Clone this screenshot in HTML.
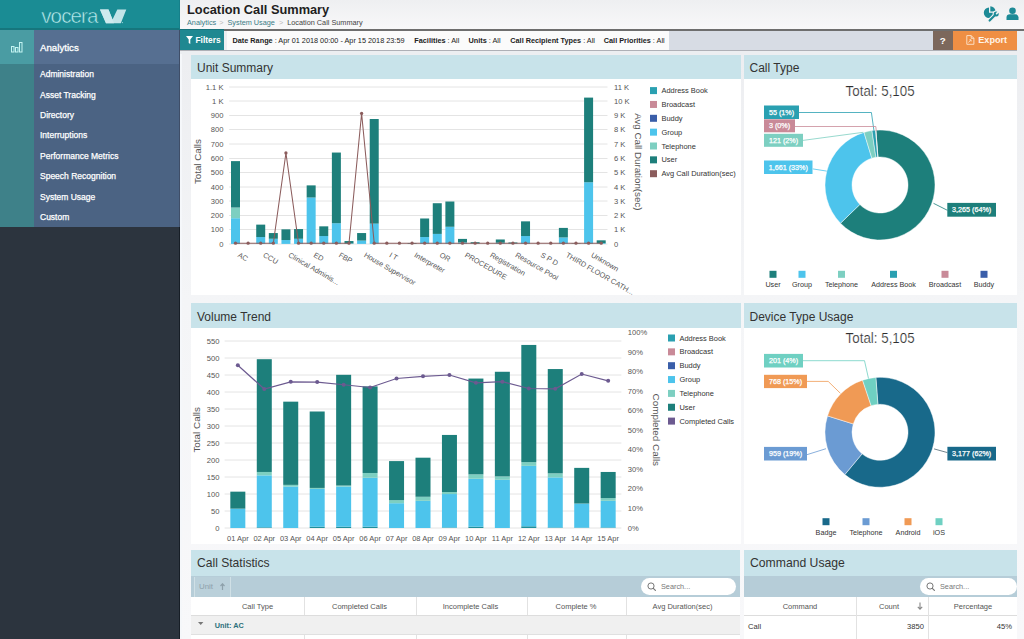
<!DOCTYPE html><html><head><meta charset="utf-8"><title>Location Call Summary</title><style>
*{margin:0;padding:0;box-sizing:border-box}
html,body{width:1024px;height:639px;overflow:hidden;background:linear-gradient(#edeef1 60px,#f4f5f7 300px,#f8f8fa 639px);font-family:"Liberation Sans", sans-serif;}
.a{position:absolute}
.t{position:absolute;white-space:nowrap;line-height:1}
.mi{position:absolute;left:40px;color:#fff;font-size:8.5px;-webkit-text-stroke:0.25px #fff;white-space:nowrap;line-height:1}
.ph{position:absolute;background:#c8e3ea;}
.ph span{position:absolute;left:6px;top:8px;font-size:12px;color:#333;white-space:nowrap;line-height:1}
.pb{position:absolute;background:#fff}
.fb b{font-weight:bold}
</style></head><body>
<div class="a" style="left:0;top:0;width:180px;height:29px;background:#1a8c94"></div>
<div class="a" style="left:0;top:28px;width:180px;height:2px;background:#16767d"></div>
<div class="a" style="left:0;top:30px;width:34px;height:34px;background:#4a9ca3"></div>
<div class="a" style="left:0;top:64px;width:34px;height:163px;background:#3e8189"></div>
<div class="a" style="left:34px;top:30px;width:146px;height:34px;background:#566f91"></div>
<div class="a" style="left:34px;top:64px;width:146px;height:163px;background:#4b6383"></div>
<div class="a" style="left:0;top:227px;width:180px;height:412px;background:#2c343e"></div>
<div class="a" style="left:179px;top:0;width:1px;height:29px;background:#16808a"></div>
<div class="a" style="left:179px;top:30px;width:1px;height:197px;background:#3f4e68"></div>
<div class="a" style="left:179px;top:227px;width:1px;height:412px;background:#171e26"></div>
<div class="a" style="left:180px;top:51px;width:2px;height:588px;background:#f5f7fa"></div>
<svg class="a" style="left:0;top:0" width="180" height="29" viewBox="0 0 180 29"><text x="41.2" y="23" font-size="20.6" letter-spacing="-0.9" fill="#b9eef0" stroke="#1a8c94" stroke-width="0.55" style="font-family:'Liberation Sans',sans-serif">vocera</text><path d="M100 9.5 L108.5 9.5 L112.5 19.5 L117.3 9.5 L126.3 9.5 L120.8 23.2 L106 23.2 Z" fill="#c3e4e8"/><path d="M100 9.5 L108.5 9.5 L114 23.2 L106 23.2 Z" fill="#cfeaee"/><circle cx="122.4" cy="22.6" r="0.6" fill="#9fd6dc"/></svg>
<svg class="a" style="left:10px;top:41px" width="13" height="12" viewBox="0 0 13 12"><g fill="none" stroke="#c4f4f2" stroke-width="1"><rect x="1.5" y="5.5" width="2.5" height="5.5"/><rect x="5.5" y="6.5" width="2.5" height="4.5"/><rect x="9.5" y="1.5" width="2.5" height="9.5"/></g></svg>
<div class="t" style="left:40px;top:43.3px;font-size:9.7px;color:#fff;-webkit-text-stroke:0.3px #fff">Analytics</div>
<div class="mi" style="top:70.0px">Administration</div>
<div class="mi" style="top:90.5px">Asset Tracking</div>
<div class="mi" style="top:110.9px">Directory</div>
<div class="mi" style="top:131.3px">Interruptions</div>
<div class="mi" style="top:151.8px">Performance Metrics</div>
<div class="mi" style="top:172.2px">Speech Recognition</div>
<div class="mi" style="top:192.7px">System Usage</div>
<div class="mi" style="top:213.2px">Custom</div>
<div class="a" style="left:180px;top:0;width:844px;height:29px;background:linear-gradient(#eeeff1,#f8f8f9)"></div>
<div class="a" style="left:180px;top:29px;width:844px;height:2px;background:#6e6e6e"></div>
<div class="t" style="left:187px;top:4.3px;font-size:12.8px;color:#1e1e1e;font-weight:bold">Location Call Summary</div>
<div class="t" style="left:187px;top:18.8px;font-size:7.3px;color:#3b7c86">Analytics<span style="color:#bbb;margin:0 4px 0 3px">&gt;</span>System Usage<span style="color:#bbb;margin:0 4px 0 4px">&gt;</span><span style="color:#444">Location Call Summary</span></div>
<svg class="a" style="left:983px;top:5px" width="18" height="18" viewBox="0 0 18 18"><path d="M6 7.8 L6 2.6 A5.2 5.2 0 1 0 11.2 7.8 Z" fill="#1d8a96"/><path d="M7.3 6.5 L7.3 1.3 A5.2 5.2 0 0 1 12.5 6.5 Z" fill="#1d8a96"/><path d="M6.6 15.6 L12.4 9.8" stroke="#f3f3f3" stroke-width="4.2" stroke-linecap="round"/><circle cx="13.2" cy="9" r="3.6" fill="#f3f3f3"/><path d="M6.6 15.6 L12.4 9.8" stroke="#1d8a96" stroke-width="2.1" stroke-linecap="round"/><circle cx="13.2" cy="9" r="2.5" fill="#1d8a96"/><path d="M13.6 8.6 L15.8 6.4" stroke="#f3f3f3" stroke-width="1.6" stroke-linecap="round"/></svg>
<svg class="a" style="left:1006px;top:7px" width="13" height="14" viewBox="0 0 13 14"><circle cx="6.5" cy="3.8" r="3.3" fill="#1d8a96"/><path d="M0.5 13 L0.5 10.5 Q0.5 7.3 4 7.3 L9 7.3 Q12.5 7.3 12.5 10.5 L12.5 13 Z" fill="#1d8a96"/></svg>
<div class="a" style="left:180px;top:31px;width:844px;height:23px;background:#eceef1"></div>
<div class="a" style="left:180px;top:29px;width:44px;height:21px;background:#1f8891;border-top:1.5px solid #17727a"></div>
<div class="a" style="left:227px;top:31px;width:442px;height:19px;background:#fbfbfb"></div>
<div class="a" style="left:669px;top:31px;width:264px;height:19px;background:#d7dce4"></div>
<div class="a" style="left:180px;top:49.5px;width:837px;height:1.3px;background:#aeb0b6"></div>
<svg class="a" style="left:185.5px;top:36px" width="7" height="8" viewBox="0 0 7 8"><path d="M0 0 H7 L4.3 3.5 V8 L2.7 7 V3.5 Z" fill="#fff"/></svg>
<div class="t" style="left:195.5px;top:36.3px;font-size:8.4px;color:#fff;font-weight:bold">Filters</div>
<div class="t fb" style="left:232.5px;top:37px;font-size:7.3px;color:#222"><b>Date Range</b> : Apr 01 2018 00:00 - Apr 15 2018 23:59</div>
<div class="t fb" style="left:414.3px;top:37px;font-size:7.3px;color:#222"><b>Facilities</b> : All</div>
<div class="t fb" style="left:468.5px;top:37px;font-size:7.3px;color:#222"><b>Units</b> : All</div>
<div class="t fb" style="left:510.3px;top:37px;font-size:7.3px;color:#222"><b>Call Recipient Types</b> : All</div>
<div class="t fb" style="left:603.8px;top:37px;font-size:7.3px;color:#222"><b>Call Priorities</b> : All</div>
<div class="a" style="left:933px;top:31px;width:20px;height:19px;background:#7c685c"></div>
<div class="t" style="left:939.8px;top:36px;font-size:9.8px;color:#fff;font-weight:bold">?</div>
<div class="a" style="left:953px;top:31px;width:64px;height:19px;background:#ef8f44"></div>
<svg class="a" style="left:966px;top:35px" width="9" height="10" viewBox="0 0 9 10"><path d="M0.8 0.6 H5.2 L7.9 3.3 V9.3 H0.8 Z M5.2 0.6 V3.3 H7.9" fill="none" stroke="#fde5cf" stroke-width="0.9"/><path d="M2.4 7.4 L4.9 5 M3.4 4.8 H5.1 V6.5" fill="none" stroke="#fde5cf" stroke-width="0.9"/></svg>
<div class="t" style="left:978.3px;top:36.2px;font-size:9.1px;color:#fff5ea;font-weight:bold">Export</div>
<div class="pb" style="left:191px;top:54.6px;width:549.5px;height:240.4px"></div>
<div class="ph" style="left:191px;top:54.6px;width:549.5px;height:24.8px"><span style="top:7.6px;font-size:12px">Unit Summary</span></div>
<div class="pb" style="left:743.5px;top:54.6px;width:273.5px;height:240.4px"></div>
<div class="ph" style="left:743.5px;top:54.6px;width:273.5px;height:24.8px"><span style="top:7.6px;font-size:12px">Call Type</span></div>
<div class="pb" style="left:191px;top:302.5px;width:549.5px;height:241.5px"></div>
<div class="ph" style="left:191px;top:302.5px;width:549.5px;height:25px"><span style="top:8px;font-size:12px">Volume Trend</span></div>
<div class="pb" style="left:743.5px;top:302.5px;width:273.5px;height:241px"></div>
<div class="ph" style="left:743.5px;top:302.5px;width:273.5px;height:25px"><span style="top:8px;font-size:12px">Device Type Usage</span></div>
<div class="pb" style="left:191px;top:550px;width:549px;height:100px"></div>
<div class="ph" style="left:191px;top:550px;width:549px;height:26px"><span style="top:7.2px;font-size:12.1px">Call Statistics</span></div>
<div class="pb" style="left:744px;top:550px;width:273px;height:100px"></div>
<div class="ph" style="left:744px;top:550px;width:273px;height:26px"><span style="top:7.2px;font-size:12.2px">Command Usage</span></div>
<svg class="a" style="left:0;top:0;font-family:'Liberation Sans',sans-serif" width="1024" height="639" viewBox="0 0 1024 639"><line x1="229.2" y1="244.0" x2="607.5" y2="244.0" stroke="#e4e4e4" stroke-width="1"/><line x1="229.2" y1="229.5" x2="607.5" y2="229.5" stroke="#e4e4e4" stroke-width="1"/><line x1="229.2" y1="215.5" x2="607.5" y2="215.5" stroke="#e4e4e4" stroke-width="1"/><line x1="229.2" y1="201.0" x2="607.5" y2="201.0" stroke="#e4e4e4" stroke-width="1"/><line x1="229.2" y1="187.0" x2="607.5" y2="187.0" stroke="#e4e4e4" stroke-width="1"/><line x1="229.2" y1="172.5" x2="607.5" y2="172.5" stroke="#e4e4e4" stroke-width="1"/><line x1="229.2" y1="158.5" x2="607.5" y2="158.5" stroke="#e4e4e4" stroke-width="1"/><line x1="229.2" y1="144.0" x2="607.5" y2="144.0" stroke="#e4e4e4" stroke-width="1"/><line x1="229.2" y1="129.5" x2="607.5" y2="129.5" stroke="#e4e4e4" stroke-width="1"/><line x1="229.2" y1="115.5" x2="607.5" y2="115.5" stroke="#e4e4e4" stroke-width="1"/><line x1="229.2" y1="101.0" x2="607.5" y2="101.0" stroke="#e4e4e4" stroke-width="1"/><line x1="229.2" y1="87.0" x2="607.5" y2="87.0" stroke="#e4e4e4" stroke-width="1"/><text x="223.50" y="246.60" font-size="7.6" fill="#555" text-anchor="end" >0</text><text x="223.50" y="232.33" font-size="7.6" fill="#555" text-anchor="end" >100</text><text x="223.50" y="218.05" font-size="7.6" fill="#555" text-anchor="end" >200</text><text x="223.50" y="203.78" font-size="7.6" fill="#555" text-anchor="end" >300</text><text x="223.50" y="189.51" font-size="7.6" fill="#555" text-anchor="end" >400</text><text x="223.50" y="175.24" font-size="7.6" fill="#555" text-anchor="end" >500</text><text x="223.50" y="160.96" font-size="7.6" fill="#555" text-anchor="end" >600</text><text x="223.50" y="146.69" font-size="7.6" fill="#555" text-anchor="end" >700</text><text x="223.50" y="132.42" font-size="7.6" fill="#555" text-anchor="end" >800</text><text x="223.50" y="118.15" font-size="7.6" fill="#555" text-anchor="end" >900</text><text x="223.50" y="103.87" font-size="7.6" fill="#555" text-anchor="end" >1 K</text><text x="223.50" y="89.60" font-size="7.6" fill="#555" text-anchor="end" >1.1 K</text><text x="614.00" y="246.60" font-size="7.6" fill="#555" text-anchor="start" >0</text><text x="614.00" y="232.33" font-size="7.6" fill="#555" text-anchor="start" >1 K</text><text x="614.00" y="218.05" font-size="7.6" fill="#555" text-anchor="start" >2 K</text><text x="614.00" y="203.78" font-size="7.6" fill="#555" text-anchor="start" >3 K</text><text x="614.00" y="189.51" font-size="7.6" fill="#555" text-anchor="start" >4 K</text><text x="614.00" y="175.24" font-size="7.6" fill="#555" text-anchor="start" >5 K</text><text x="614.00" y="160.96" font-size="7.6" fill="#555" text-anchor="start" >6 K</text><text x="614.00" y="146.69" font-size="7.6" fill="#555" text-anchor="start" >7 K</text><text x="614.00" y="132.42" font-size="7.6" fill="#555" text-anchor="start" >8 K</text><text x="614.00" y="118.15" font-size="7.6" fill="#555" text-anchor="start" >9 K</text><text x="614.00" y="103.87" font-size="7.6" fill="#555" text-anchor="start" >10 K</text><text x="614.00" y="89.60" font-size="7.6" fill="#555" text-anchor="start" >11 K</text><text transform="translate(200.6,161.6) rotate(-90)" font-size="9.75" fill="#555" text-anchor="middle">Total Calls</text><text transform="translate(634.6,161.8) rotate(90)" font-size="9.75" fill="#555" text-anchor="middle">Avg Call Duration(sec)</text><rect x="231.00" y="218.21" width="9" height="25.69" fill="#4dc4ec"/><rect x="231.00" y="207.50" width="9" height="10.70" fill="#7dcfc1"/><rect x="231.00" y="161.12" width="9" height="46.39" fill="#1d7f7b"/><rect x="256.22" y="237.05" width="9" height="6.85" fill="#4dc4ec"/><rect x="256.22" y="224.63" width="9" height="12.42" fill="#1d7f7b"/><rect x="268.83" y="238.76" width="9" height="5.14" fill="#4dc4ec"/><rect x="268.83" y="233.05" width="9" height="5.71" fill="#1d7f7b"/><rect x="281.44" y="240.05" width="9" height="3.85" fill="#4dc4ec"/><rect x="281.44" y="229.34" width="9" height="10.70" fill="#1d7f7b"/><rect x="294.06" y="238.76" width="9" height="5.14" fill="#4dc4ec"/><rect x="294.06" y="229.06" width="9" height="9.71" fill="#1d7f7b"/><rect x="306.66" y="197.51" width="9" height="46.39" fill="#4dc4ec"/><rect x="306.66" y="185.38" width="9" height="12.13" fill="#1d7f7b"/><rect x="319.27" y="236.05" width="9" height="7.85" fill="#4dc4ec"/><rect x="319.27" y="226.34" width="9" height="9.71" fill="#1d7f7b"/><rect x="331.88" y="223.20" width="9" height="20.70" fill="#4dc4ec"/><rect x="331.88" y="152.55" width="9" height="70.65" fill="#1d7f7b"/><rect x="344.50" y="243.47" width="9" height="0.43" fill="#4dc4ec"/><rect x="344.50" y="241.05" width="9" height="2.43" fill="#1d7f7b"/><rect x="357.11" y="240.62" width="9" height="3.28" fill="#4dc4ec"/><rect x="357.11" y="233.05" width="9" height="7.56" fill="#1d7f7b"/><rect x="369.72" y="223.63" width="9" height="20.27" fill="#4dc4ec"/><rect x="369.72" y="119.01" width="9" height="104.62" fill="#1d7f7b"/><rect x="407.55" y="243.19" width="9" height="0.71" fill="#1d7f7b"/><rect x="420.15" y="237.05" width="9" height="6.85" fill="#4dc4ec"/><rect x="420.15" y="218.49" width="9" height="18.55" fill="#1d7f7b"/><rect x="432.76" y="233.91" width="9" height="9.99" fill="#4dc4ec"/><rect x="432.76" y="203.22" width="9" height="30.69" fill="#1d7f7b"/><rect x="445.38" y="226.77" width="9" height="17.13" fill="#4dc4ec"/><rect x="445.38" y="201.51" width="9" height="25.26" fill="#1d7f7b"/><rect x="457.99" y="242.47" width="9" height="1.43" fill="#4dc4ec"/><rect x="457.99" y="238.90" width="9" height="3.57" fill="#1d7f7b"/><rect x="470.60" y="243.47" width="9" height="0.43" fill="#4dc4ec"/><rect x="470.60" y="242.19" width="9" height="1.28" fill="#1d7f7b"/><rect x="495.81" y="242.76" width="9" height="1.14" fill="#4dc4ec"/><rect x="495.81" y="239.48" width="9" height="3.28" fill="#1d7f7b"/><rect x="508.42" y="243.47" width="9" height="0.43" fill="#4dc4ec"/><rect x="508.42" y="242.47" width="9" height="1.00" fill="#1d7f7b"/><rect x="521.04" y="236.05" width="9" height="7.85" fill="#4dc4ec"/><rect x="521.04" y="221.35" width="9" height="14.70" fill="#1d7f7b"/><rect x="558.87" y="237.48" width="9" height="6.42" fill="#4dc4ec"/><rect x="558.87" y="227.91" width="9" height="9.56" fill="#1d7f7b"/><rect x="571.48" y="243.47" width="9" height="0.43" fill="#1d7f7b"/><rect x="584.09" y="182.24" width="9" height="61.66" fill="#4dc4ec"/><rect x="584.09" y="97.60" width="9" height="84.64" fill="#1d7f7b"/><rect x="596.70" y="243.19" width="9" height="0.71" fill="#4dc4ec"/><rect x="596.70" y="240.33" width="9" height="2.85" fill="#1d7f7b"/><polyline points="235.50,243.20 248.11,243.20 260.72,243.20 273.33,243.20 285.94,152.98 298.56,243.20 311.16,243.20 323.77,243.20 336.38,243.20 349.00,243.20 361.61,113.45 374.22,243.20 386.83,243.20 399.44,243.20 412.05,243.20 424.65,243.20 437.26,243.20 449.88,243.20 462.49,243.20 475.10,243.20 487.71,243.20 500.31,243.20 512.92,243.20 525.54,243.20 538.14,243.20 550.75,243.20 563.37,243.20 575.98,243.20 588.59,243.20 601.20,243.20" fill="none" stroke="#8b5c5c" stroke-width="1.05"/><circle cx="235.50" cy="243.20" r="1.65" fill="#8b5c5c"/><circle cx="248.11" cy="243.20" r="1.65" fill="#8b5c5c"/><circle cx="260.72" cy="243.20" r="1.65" fill="#8b5c5c"/><circle cx="273.33" cy="243.20" r="1.65" fill="#8b5c5c"/><circle cx="285.94" cy="152.98" r="1.65" fill="#8b5c5c"/><circle cx="298.56" cy="243.20" r="1.65" fill="#8b5c5c"/><circle cx="311.16" cy="243.20" r="1.65" fill="#8b5c5c"/><circle cx="323.77" cy="243.20" r="1.65" fill="#8b5c5c"/><circle cx="336.38" cy="243.20" r="1.65" fill="#8b5c5c"/><circle cx="349.00" cy="243.20" r="1.65" fill="#8b5c5c"/><circle cx="361.61" cy="113.45" r="1.65" fill="#8b5c5c"/><circle cx="374.22" cy="243.20" r="1.65" fill="#8b5c5c"/><circle cx="386.83" cy="243.20" r="1.65" fill="#8b5c5c"/><circle cx="399.44" cy="243.20" r="1.65" fill="#8b5c5c"/><circle cx="412.05" cy="243.20" r="1.65" fill="#8b5c5c"/><circle cx="424.65" cy="243.20" r="1.65" fill="#8b5c5c"/><circle cx="437.26" cy="243.20" r="1.65" fill="#8b5c5c"/><circle cx="449.88" cy="243.20" r="1.65" fill="#8b5c5c"/><circle cx="462.49" cy="243.20" r="1.65" fill="#8b5c5c"/><circle cx="475.10" cy="243.20" r="1.65" fill="#8b5c5c"/><circle cx="487.71" cy="243.20" r="1.65" fill="#8b5c5c"/><circle cx="500.31" cy="243.20" r="1.65" fill="#8b5c5c"/><circle cx="512.92" cy="243.20" r="1.65" fill="#8b5c5c"/><circle cx="525.54" cy="243.20" r="1.65" fill="#8b5c5c"/><circle cx="538.14" cy="243.20" r="1.65" fill="#8b5c5c"/><circle cx="550.75" cy="243.20" r="1.65" fill="#8b5c5c"/><circle cx="563.37" cy="243.20" r="1.65" fill="#8b5c5c"/><circle cx="575.98" cy="243.20" r="1.65" fill="#8b5c5c"/><circle cx="588.59" cy="243.20" r="1.65" fill="#8b5c5c"/><circle cx="601.20" cy="243.20" r="1.65" fill="#8b5c5c"/><text transform="translate(237.31,256.4) rotate(30)" font-size="7.35" fill="#555">AC</text><text transform="translate(262.52,256.4) rotate(30)" font-size="7.35" fill="#555">CCU</text><text transform="translate(287.75,256.4) rotate(30)" font-size="7.35" fill="#555">Clinical Adminis...</text><text transform="translate(312.96,256.4) rotate(30)" font-size="7.35" fill="#555">ED</text><text transform="translate(338.19,256.4) rotate(30)" font-size="7.35" fill="#555">FBP</text><text transform="translate(363.41,256.4) rotate(30)" font-size="7.35" fill="#555">House Supervisor</text><text transform="translate(388.63,256.4) rotate(30)" font-size="7.35" fill="#555">I T</text><text transform="translate(413.85,256.4) rotate(30)" font-size="7.35" fill="#555">Interpreter</text><text transform="translate(439.06,256.4) rotate(30)" font-size="7.35" fill="#555">OR</text><text transform="translate(464.29,256.4) rotate(30)" font-size="7.35" fill="#555">PROCEDURE</text><text transform="translate(489.51,256.4) rotate(30)" font-size="7.35" fill="#555">Registration</text><text transform="translate(514.72,256.4) rotate(30)" font-size="7.35" fill="#555">Resource Pool</text><text transform="translate(539.94,256.4) rotate(30)" font-size="7.35" fill="#555">S P D</text><text transform="translate(565.16,256.4) rotate(30)" font-size="7.35" fill="#555">THIRD FLOOR CATH...</text><text transform="translate(590.38,256.4) rotate(30)" font-size="7.35" fill="#555">Unknown</text><rect x="650" y="87.10" width="7" height="7" fill="#2aa0b1"/><text x="661.50" y="93.20" font-size="7.45" fill="#333" text-anchor="start" >Address Book</text><rect x="650" y="100.95" width="7" height="7" fill="#c98a98"/><text x="661.50" y="107.05" font-size="7.45" fill="#333" text-anchor="start" >Broadcast</text><rect x="650" y="114.80" width="7" height="7" fill="#3a5ea9"/><text x="661.50" y="120.90" font-size="7.45" fill="#333" text-anchor="start" >Buddy</text><rect x="650" y="128.65" width="7" height="7" fill="#4dc4ec"/><text x="661.50" y="134.75" font-size="7.45" fill="#333" text-anchor="start" >Group</text><rect x="650" y="142.50" width="7" height="7" fill="#7dcfc1"/><text x="661.50" y="148.60" font-size="7.45" fill="#333" text-anchor="start" >Telephone</text><rect x="650" y="156.35" width="7" height="7" fill="#1d7f7b"/><text x="661.50" y="162.45" font-size="7.45" fill="#333" text-anchor="start" >User</text><rect x="650" y="170.20" width="7" height="7" fill="#8b5c5c"/><text x="661.50" y="176.30" font-size="7.45" fill="#333" text-anchor="start" >Avg Call Duration(sec)</text><line x1="224.6" y1="528.0" x2="621.4" y2="528.0" stroke="#e4e4e4" stroke-width="1"/><line x1="224.6" y1="511.0" x2="621.4" y2="511.0" stroke="#e4e4e4" stroke-width="1"/><line x1="224.6" y1="494.0" x2="621.4" y2="494.0" stroke="#e4e4e4" stroke-width="1"/><line x1="224.6" y1="477.0" x2="621.4" y2="477.0" stroke="#e4e4e4" stroke-width="1"/><line x1="224.6" y1="460.0" x2="621.4" y2="460.0" stroke="#e4e4e4" stroke-width="1"/><line x1="224.6" y1="443.0" x2="621.4" y2="443.0" stroke="#e4e4e4" stroke-width="1"/><line x1="224.6" y1="426.0" x2="621.4" y2="426.0" stroke="#e4e4e4" stroke-width="1"/><line x1="224.6" y1="409.0" x2="621.4" y2="409.0" stroke="#e4e4e4" stroke-width="1"/><line x1="224.6" y1="392.0" x2="621.4" y2="392.0" stroke="#e4e4e4" stroke-width="1"/><line x1="224.6" y1="375.0" x2="621.4" y2="375.0" stroke="#e4e4e4" stroke-width="1"/><line x1="224.6" y1="358.0" x2="621.4" y2="358.0" stroke="#e4e4e4" stroke-width="1"/><line x1="224.6" y1="341.0" x2="621.4" y2="341.0" stroke="#e4e4e4" stroke-width="1"/><text x="219.50" y="530.70" font-size="7.6" fill="#555" text-anchor="end" >0</text><text x="219.50" y="513.72" font-size="7.6" fill="#555" text-anchor="end" >50</text><text x="219.50" y="496.74" font-size="7.6" fill="#555" text-anchor="end" >100</text><text x="219.50" y="479.75" font-size="7.6" fill="#555" text-anchor="end" >150</text><text x="219.50" y="462.77" font-size="7.6" fill="#555" text-anchor="end" >200</text><text x="219.50" y="445.79" font-size="7.6" fill="#555" text-anchor="end" >250</text><text x="219.50" y="428.81" font-size="7.6" fill="#555" text-anchor="end" >300</text><text x="219.50" y="411.83" font-size="7.6" fill="#555" text-anchor="end" >350</text><text x="219.50" y="394.85" font-size="7.6" fill="#555" text-anchor="end" >400</text><text x="219.50" y="377.86" font-size="7.6" fill="#555" text-anchor="end" >450</text><text x="219.50" y="360.88" font-size="7.6" fill="#555" text-anchor="end" >500</text><text x="219.50" y="343.90" font-size="7.6" fill="#555" text-anchor="end" >550</text><text x="627.80" y="530.50" font-size="7.6" fill="#555" text-anchor="start" >0%</text><text x="627.80" y="510.96" font-size="7.6" fill="#555" text-anchor="start" >10%</text><text x="627.80" y="491.42" font-size="7.6" fill="#555" text-anchor="start" >20%</text><text x="627.80" y="471.88" font-size="7.6" fill="#555" text-anchor="start" >30%</text><text x="627.80" y="452.34" font-size="7.6" fill="#555" text-anchor="start" >40%</text><text x="627.80" y="432.80" font-size="7.6" fill="#555" text-anchor="start" >50%</text><text x="627.80" y="413.26" font-size="7.6" fill="#555" text-anchor="start" >60%</text><text x="627.80" y="393.72" font-size="7.6" fill="#555" text-anchor="start" >70%</text><text x="627.80" y="374.18" font-size="7.6" fill="#555" text-anchor="start" >80%</text><text x="627.80" y="354.64" font-size="7.6" fill="#555" text-anchor="start" >90%</text><text x="627.80" y="335.10" font-size="7.6" fill="#555" text-anchor="start" >100%</text><text transform="translate(200.3,429.8) rotate(-90)" font-size="9.9" fill="#555" text-anchor="middle">Total Calls</text><text transform="translate(652.6,429.8) rotate(90)" font-size="9.9" fill="#555" text-anchor="middle">Completed Calls</text><rect x="230.33" y="508.64" width="15" height="19.36" fill="#4dc4ec"/><rect x="230.33" y="491.66" width="15" height="16.98" fill="#1d7f7b"/><text x="237.83" y="541.30" font-size="7.5" fill="#555" text-anchor="middle" >01 Apr</text><rect x="256.78" y="527.32" width="15" height="0.68" fill="#1f8f9c"/><rect x="256.78" y="475.36" width="15" height="51.96" fill="#4dc4ec"/><rect x="256.78" y="471.96" width="15" height="3.40" fill="#7dcfc1"/><rect x="256.78" y="359.20" width="15" height="112.76" fill="#1d7f7b"/><text x="264.28" y="541.30" font-size="7.5" fill="#555" text-anchor="middle" >02 Apr</text><rect x="283.23" y="486.56" width="15" height="41.44" fill="#4dc4ec"/><rect x="283.23" y="484.87" width="15" height="1.70" fill="#7dcfc1"/><rect x="283.23" y="401.66" width="15" height="83.21" fill="#1d7f7b"/><text x="290.73" y="541.30" font-size="7.5" fill="#555" text-anchor="middle" >03 Apr</text><rect x="309.69" y="526.64" width="15" height="1.36" fill="#1f8f9c"/><rect x="309.69" y="488.94" width="15" height="37.70" fill="#4dc4ec"/><rect x="309.69" y="487.92" width="15" height="1.02" fill="#7dcfc1"/><rect x="309.69" y="411.50" width="15" height="76.42" fill="#1d7f7b"/><text x="317.19" y="541.30" font-size="7.5" fill="#555" text-anchor="middle" >04 Apr</text><rect x="336.14" y="526.64" width="15" height="1.36" fill="#1f8f9c"/><rect x="336.14" y="486.56" width="15" height="40.08" fill="#4dc4ec"/><rect x="336.14" y="485.55" width="15" height="1.02" fill="#7dcfc1"/><rect x="336.14" y="374.82" width="15" height="110.72" fill="#1d7f7b"/><text x="343.64" y="541.30" font-size="7.5" fill="#555" text-anchor="middle" >05 Apr</text><rect x="362.59" y="526.64" width="15" height="1.36" fill="#1f8f9c"/><rect x="362.59" y="477.73" width="15" height="48.91" fill="#4dc4ec"/><rect x="362.59" y="472.98" width="15" height="4.75" fill="#7dcfc1"/><rect x="362.59" y="386.37" width="15" height="86.61" fill="#1d7f7b"/><text x="370.09" y="541.30" font-size="7.5" fill="#555" text-anchor="middle" >06 Apr</text><rect x="389.05" y="503.21" width="15" height="24.79" fill="#4dc4ec"/><rect x="389.05" y="500.15" width="15" height="3.06" fill="#7dcfc1"/><rect x="389.05" y="461.09" width="15" height="39.06" fill="#1d7f7b"/><text x="396.55" y="541.30" font-size="7.5" fill="#555" text-anchor="middle" >07 Apr</text><rect x="415.50" y="500.83" width="15" height="27.17" fill="#4dc4ec"/><rect x="415.50" y="496.75" width="15" height="4.08" fill="#7dcfc1"/><rect x="415.50" y="457.70" width="15" height="39.06" fill="#1d7f7b"/><text x="423.00" y="541.30" font-size="7.5" fill="#555" text-anchor="middle" >08 Apr</text><rect x="441.95" y="527.49" width="15" height="0.51" fill="#1f8f9c"/><rect x="441.95" y="494.04" width="15" height="33.45" fill="#4dc4ec"/><rect x="441.95" y="492.00" width="15" height="2.04" fill="#7dcfc1"/><rect x="441.95" y="434.94" width="15" height="57.06" fill="#1d7f7b"/><text x="449.45" y="541.30" font-size="7.5" fill="#555" text-anchor="middle" >09 Apr</text><rect x="468.41" y="526.64" width="15" height="1.36" fill="#1f8f9c"/><rect x="468.41" y="478.75" width="15" height="47.89" fill="#4dc4ec"/><rect x="468.41" y="474.34" width="15" height="4.42" fill="#7dcfc1"/><rect x="468.41" y="378.56" width="15" height="95.78" fill="#1d7f7b"/><text x="475.91" y="541.30" font-size="7.5" fill="#555" text-anchor="middle" >10 Apr</text><rect x="494.86" y="479.77" width="15" height="48.23" fill="#4dc4ec"/><rect x="494.86" y="476.38" width="15" height="3.40" fill="#7dcfc1"/><rect x="494.86" y="371.77" width="15" height="104.61" fill="#1d7f7b"/><text x="502.36" y="541.30" font-size="7.5" fill="#555" text-anchor="middle" >11 Apr</text><rect x="521.31" y="526.30" width="15" height="1.70" fill="#1f8f9c"/><rect x="521.31" y="465.85" width="15" height="60.46" fill="#4dc4ec"/><rect x="521.31" y="462.11" width="15" height="3.74" fill="#7dcfc1"/><rect x="521.31" y="344.94" width="15" height="117.17" fill="#1d7f7b"/><text x="528.81" y="541.30" font-size="7.5" fill="#555" text-anchor="middle" >12 Apr</text><rect x="547.77" y="527.49" width="15" height="0.51" fill="#1f8f9c"/><rect x="547.77" y="477.39" width="15" height="50.10" fill="#4dc4ec"/><rect x="547.77" y="473.32" width="15" height="4.08" fill="#7dcfc1"/><rect x="547.77" y="369.05" width="15" height="104.27" fill="#1d7f7b"/><text x="555.27" y="541.30" font-size="7.5" fill="#555" text-anchor="middle" >13 Apr</text><rect x="574.22" y="527.66" width="15" height="0.34" fill="#1f8f9c"/><rect x="574.22" y="503.55" width="15" height="24.11" fill="#4dc4ec"/><rect x="574.22" y="467.88" width="15" height="35.66" fill="#1d7f7b"/><text x="581.72" y="541.30" font-size="7.5" fill="#555" text-anchor="middle" >14 Apr</text><rect x="600.67" y="527.49" width="15" height="0.51" fill="#1f8f9c"/><rect x="600.67" y="500.83" width="15" height="26.66" fill="#4dc4ec"/><rect x="600.67" y="498.11" width="15" height="2.72" fill="#7dcfc1"/><rect x="600.67" y="471.96" width="15" height="26.15" fill="#1d7f7b"/><text x="608.17" y="541.30" font-size="7.5" fill="#555" text-anchor="middle" >15 Apr</text><polyline points="237.83,365.23 264.28,389.07 290.73,381.84 317.19,382.03 343.64,384.77 370.09,387.50 396.55,378.51 423.00,376.37 449.45,375.00 475.91,382.81 502.36,381.64 528.81,388.48 555.27,388.87 581.72,374.02 608.17,380.86" fill="none" stroke="#6c5a90" stroke-width="1.2"/><circle cx="237.83" cy="365.23" r="2" fill="#6c5a90"/><circle cx="264.28" cy="389.07" r="2" fill="#6c5a90"/><circle cx="290.73" cy="381.84" r="2" fill="#6c5a90"/><circle cx="317.19" cy="382.03" r="2" fill="#6c5a90"/><circle cx="343.64" cy="384.77" r="2" fill="#6c5a90"/><circle cx="370.09" cy="387.50" r="2" fill="#6c5a90"/><circle cx="396.55" cy="378.51" r="2" fill="#6c5a90"/><circle cx="423.00" cy="376.37" r="2" fill="#6c5a90"/><circle cx="449.45" cy="375.00" r="2" fill="#6c5a90"/><circle cx="475.91" cy="382.81" r="2" fill="#6c5a90"/><circle cx="502.36" cy="381.64" r="2" fill="#6c5a90"/><circle cx="528.81" cy="388.48" r="2" fill="#6c5a90"/><circle cx="555.27" cy="388.87" r="2" fill="#6c5a90"/><circle cx="581.72" cy="374.02" r="2" fill="#6c5a90"/><circle cx="608.17" cy="380.86" r="2" fill="#6c5a90"/><rect x="668" y="334.50" width="7" height="7" fill="#2aa0b1"/><text x="679.50" y="340.60" font-size="7.45" fill="#333" text-anchor="start" >Address Book</text><rect x="668" y="348.35" width="7" height="7" fill="#c98a98"/><text x="679.50" y="354.45" font-size="7.45" fill="#333" text-anchor="start" >Broadcast</text><rect x="668" y="362.20" width="7" height="7" fill="#3a5ea9"/><text x="679.50" y="368.30" font-size="7.45" fill="#333" text-anchor="start" >Buddy</text><rect x="668" y="376.05" width="7" height="7" fill="#4dc4ec"/><text x="679.50" y="382.15" font-size="7.45" fill="#333" text-anchor="start" >Group</text><rect x="668" y="389.90" width="7" height="7" fill="#7dcfc1"/><text x="679.50" y="396.00" font-size="7.45" fill="#333" text-anchor="start" >Telephone</text><rect x="668" y="403.75" width="7" height="7" fill="#1d7f7b"/><text x="679.50" y="409.85" font-size="7.45" fill="#333" text-anchor="start" >User</text><rect x="668" y="417.60" width="7" height="7" fill="#6c5a90"/><text x="679.50" y="423.70" font-size="7.45" fill="#333" text-anchor="start" >Completed Calls</text><path d="M875.88 130.15 A55 55 0 1 1 840.47 223.24 L859.88 204.47 A28 28 0 1 0 877.90 157.08 Z" fill="#1d7f7b" stroke="#fff" stroke-width="0.45"/><path d="M840.47 223.24 A55 55 0 0 1 863.99 132.38 L871.85 158.21 A28 28 0 0 0 859.88 204.47 Z" fill="#4dc4ec" stroke="#fff" stroke-width="0.45"/><path d="M863.99 132.38 A55 55 0 0 1 871.97 130.59 L875.91 157.30 A28 28 0 0 0 871.85 158.21 Z" fill="#7dcfc1" stroke="#fff" stroke-width="0.45"/><path d="M871.97 130.59 A55 55 0 0 1 875.67 130.17 L877.80 157.09 A28 28 0 0 0 875.91 157.30 Z" fill="#2aa0b1" stroke="#fff" stroke-width="0.45"/><path d="M875.67 130.17 A55 55 0 0 1 875.88 130.15 L877.90 157.08 A28 28 0 0 0 877.80 157.09 Z" fill="#c98a98" stroke="#fff" stroke-width="0.45"/><path d="M875.88 377.45 A55 55 0 1 1 844.84 474.59 L862.10 453.83 A28 28 0 1 0 877.90 404.38 Z" fill="#18698a" stroke="#fff" stroke-width="0.45"/><path d="M844.84 474.59 A55 55 0 0 1 827.51 415.88 L853.28 423.94 A28 28 0 0 0 862.10 453.83 Z" fill="#6b9bd3" stroke="#fff" stroke-width="0.45"/><path d="M827.51 415.88 A55 55 0 0 1 862.57 380.13 L871.13 405.74 A28 28 0 0 0 853.28 423.94 Z" fill="#f09a55" stroke="#fff" stroke-width="0.45"/><path d="M862.57 380.13 A55 55 0 0 1 875.88 377.45 L877.90 404.38 A28 28 0 0 0 871.13 405.74 Z" fill="#6fd0c2" stroke="#fff" stroke-width="0.45"/><polyline points="799,112.5 871.4,112.5 874,131" fill="none" stroke="#2aa0b1" stroke-width="0.8"/><polyline points="795,126.5 875.8,126.5 876.3,131" fill="none" stroke="#c98a98" stroke-width="0.8"/><polyline points="803,140.4 863.3,132.3" fill="none" stroke="#7dcfc1" stroke-width="0.8"/><polyline points="812.8,168.9 826.7,171.1" fill="none" stroke="#4dc4ec" stroke-width="0.8"/><polyline points="933.5,203.3 947.4,210.3" fill="none" stroke="#1d7f7b" stroke-width="0.8"/><rect x="764" y="105.5" width="35" height="13.5" fill="#2aa0b1"/><text x="781.50" y="114.85" font-size="7.2" fill="#fff" text-anchor="middle" stroke="#fff" stroke-width="0.25">55 (1%)</text><rect x="764" y="119.3" width="31" height="13" fill="#c98a98"/><text x="779.50" y="128.40" font-size="7.2" fill="#fff" text-anchor="middle" stroke="#fff" stroke-width="0.25">3 (0%)</text><rect x="764" y="133.8" width="39" height="13" fill="#7dcfc1"/><text x="783.50" y="142.90" font-size="7.2" fill="#fff" text-anchor="middle" stroke="#fff" stroke-width="0.25">121 (2%)</text><rect x="764" y="160.5" width="48.5" height="13.5" fill="#4dc4ec"/><text x="788.25" y="169.85" font-size="7.2" fill="#fff" text-anchor="middle" stroke="#fff" stroke-width="0.25">1,661 (33%)</text><rect x="947.3" y="202.9" width="48.7" height="13.8" fill="#1d7f7b"/><text x="971.65" y="212.40" font-size="7.2" fill="#fff" text-anchor="middle" stroke="#fff" stroke-width="0.25">3,265 (64%)</text><text transform="translate(880.1,95.6) scale(0.915,1)" font-size="14.6" fill="#2e2e2e" stroke="#fff" stroke-width="0.22" text-anchor="middle">Total: 5,105</text><rect x="769.5" y="270.8" width="7" height="7" fill="#1d7f7b"/><text x="773.00" y="287.20" font-size="7.2" fill="#333" text-anchor="middle" >User</text><rect x="798.5" y="270.8" width="7" height="7" fill="#4dc4ec"/><text x="802.00" y="287.20" font-size="7.2" fill="#333" text-anchor="middle" >Group</text><rect x="838.0" y="270.8" width="7" height="7" fill="#7dcfc1"/><text x="841.50" y="287.20" font-size="7.2" fill="#333" text-anchor="middle" >Telephone</text><rect x="890.0" y="270.8" width="7" height="7" fill="#2aa0b1"/><text x="893.50" y="287.20" font-size="7.2" fill="#333" text-anchor="middle" >Address Book</text><rect x="941.5" y="270.8" width="7" height="7" fill="#c98a98"/><text x="945.00" y="287.20" font-size="7.2" fill="#333" text-anchor="middle" >Broadcast</text><rect x="980.5" y="270.8" width="7" height="7" fill="#3a5ea9"/><text x="984.00" y="287.20" font-size="7.2" fill="#333" text-anchor="middle" >Buddy</text><polyline points="802.9,360.7 864.5,360.7 868.5,378.5" fill="none" stroke="#6fd0c2" stroke-width="0.8"/><polyline points="806.9,381.4 828.2,381.4 840.3,393.2" fill="none" stroke="#f09a55" stroke-width="0.8"/><polyline points="806.9,454.7 826,448.7" fill="none" stroke="#6b9bd3" stroke-width="0.8"/><polyline points="934.1,448.9 947.4,452.6" fill="none" stroke="#4d6470" stroke-width="0.8"/><rect x="764" y="353.9" width="39" height="13.6" fill="#6fd0c2"/><text x="783.50" y="363.30" font-size="7.2" fill="#fff" text-anchor="middle" stroke="#fff" stroke-width="0.25">201 (4%)</text><rect x="764" y="374.8" width="43" height="13.3" fill="#f09a55"/><text x="785.50" y="384.05" font-size="7.2" fill="#fff" text-anchor="middle" stroke="#fff" stroke-width="0.25">768 (15%)</text><rect x="764" y="446.9" width="43" height="13.6" fill="#6b9bd3"/><text x="785.50" y="456.30" font-size="7.2" fill="#fff" text-anchor="middle" stroke="#fff" stroke-width="0.25">959 (19%)</text><rect x="947.4" y="446.8" width="48.6" height="13.7" fill="#18698a"/><text x="971.70" y="456.25" font-size="7.2" fill="#fff" text-anchor="middle" stroke="#fff" stroke-width="0.25">3,177 (62%)</text><text transform="translate(880.1,343.2) scale(0.915,1)" font-size="14.6" fill="#2e2e2e" stroke="#fff" stroke-width="0.22" text-anchor="middle">Total: 5,105</text><rect x="822.5" y="518.2" width="7" height="7" fill="#18698a"/><text x="826.00" y="535.00" font-size="7.2" fill="#333" text-anchor="middle" >Badge</text><rect x="862.5" y="518.2" width="7" height="7" fill="#6b9bd3"/><text x="866.00" y="535.00" font-size="7.2" fill="#333" text-anchor="middle" >Telephone</text><rect x="904.5" y="518.2" width="7" height="7" fill="#f09a55"/><text x="908.00" y="535.00" font-size="7.2" fill="#333" text-anchor="middle" >Android</text><rect x="935.5" y="518.2" width="7" height="7" fill="#6fd0c2"/><text x="939.00" y="535.00" font-size="7.2" fill="#333" text-anchor="middle" >iOS</text></svg>
<div class="a" style="left:191px;top:576px;width:549px;height:21px;background:#b6cdd8"></div>
<div class="a" style="left:194px;top:576.5px;width:36.5px;height:20px;background:#bad0da;border-left:1px solid #d0e0e6;border-right:1px solid #d0e0e6"></div>
<div class="t" style="left:199px;top:582.8px;font-size:7.9px;color:#8ea1ab">Unit</div>
<svg class="a" style="left:219.5px;top:583px" width="5" height="7" viewBox="0 0 5 7"><path d="M2.5 7 V1 M0.5 3 L2.5 0.8 L4.5 3" fill="none" stroke="#8ea1ab" stroke-width="1.2"/></svg>
<div class="a" style="left:641px;top:578px;width:95px;height:17px;background:#fff;border-radius:9px"></div>
<svg class="a" style="left:647px;top:581.5px" width="10" height="10" viewBox="0 0 10 10"><circle cx="4" cy="4" r="3.1" fill="none" stroke="#777" stroke-width="1"/><path d="M6.3 6.3 L8.4 8.4" stroke="#777" stroke-width="1.2" stroke-linecap="round"/></svg>
<div class="t" style="left:661px;top:583px;font-size:7.3px;color:#777">Search...</div>
<div class="a" style="left:191px;top:597px;width:549px;height:18.5px;background:#fff;border-bottom:1px solid #ddd"></div>
<div class="a" style="left:304px;top:597px;width:1px;height:18px;background:#e2e2e2"></div>
<div class="a" style="left:304px;top:634.5px;width:1px;height:5px;background:#e2e2e2"></div>
<div class="a" style="left:415.5px;top:597px;width:1px;height:18px;background:#e2e2e2"></div>
<div class="a" style="left:415.5px;top:634.5px;width:1px;height:5px;background:#e2e2e2"></div>
<div class="a" style="left:526.5px;top:597px;width:1px;height:18px;background:#e2e2e2"></div>
<div class="a" style="left:526.5px;top:634.5px;width:1px;height:5px;background:#e2e2e2"></div>
<div class="a" style="left:625.5px;top:597px;width:1px;height:18px;background:#e2e2e2"></div>
<div class="a" style="left:625.5px;top:634.5px;width:1px;height:5px;background:#e2e2e2"></div>
<div class="t" style="left:197.5px;width:120px;text-align:center;top:602.5px;font-size:7.5px;color:#555">Call Type</div>
<div class="t" style="left:299.5px;width:120px;text-align:center;top:602.5px;font-size:7.5px;color:#555">Completed Calls</div>
<div class="t" style="left:410.5px;width:120px;text-align:center;top:602.5px;font-size:7.5px;color:#555">Incomplete Calls</div>
<div class="t" style="left:516px;width:120px;text-align:center;top:602.5px;font-size:7.5px;color:#555">Complete %</div>
<div class="t" style="left:622.5px;width:120px;text-align:center;top:602.5px;font-size:7.5px;color:#555">Avg Duration(sec)</div>
<div class="a" style="left:191px;top:615.5px;width:549px;height:19px;background:#f0f0f0;border-bottom:1px solid #e0e0e0"></div>
<svg class="a" style="left:198px;top:622px" width="6" height="4" viewBox="0 0 6 4"><path d="M0 0 H5.4 L2.7 3 Z" fill="#777"/></svg>
<div class="t" style="left:214.8px;top:621.7px;font-size:7.3px;color:#2b6f7a;font-weight:bold">Unit: AC</div>
<div class="a" style="left:744px;top:576px;width:273px;height:21px;background:#b6cdd8"></div>
<div class="a" style="left:920px;top:578px;width:96.5px;height:16.5px;background:#fff;border-radius:9px"></div>
<svg class="a" style="left:926px;top:581.5px" width="10" height="10" viewBox="0 0 10 10"><circle cx="4" cy="4" r="3.1" fill="none" stroke="#777" stroke-width="1"/><path d="M6.3 6.3 L8.4 8.4" stroke="#777" stroke-width="1.2" stroke-linecap="round"/></svg>
<div class="t" style="left:940px;top:583px;font-size:7.3px;color:#777">Search...</div>
<div class="a" style="left:744px;top:597px;width:273px;height:18.5px;background:#fff;border-bottom:1px solid #ddd"></div>
<div class="a" style="left:855.5px;top:597px;width:1px;height:42px;background:#e2e2e2"></div>
<div class="a" style="left:927.5px;top:597px;width:1px;height:42px;background:#e2e2e2"></div>
<div class="t" style="left:750px;width:100px;text-align:center;top:602.5px;font-size:7.5px;color:#555">Command</div>
<div class="t" style="left:839px;width:100px;text-align:center;top:602.5px;font-size:7.5px;color:#555">Count</div>
<div class="t" style="left:923px;width:100px;text-align:center;top:602.5px;font-size:7.5px;color:#555">Percentage</div>
<svg class="a" style="left:917px;top:602px" width="6" height="8" viewBox="0 0 6 8"><path d="M3 0.5 V7 M0.8 4.8 L3 7.2 L5.2 4.8" fill="none" stroke="#888" stroke-width="1.1"/></svg>
<div class="t" style="left:748px;top:622.5px;font-size:7.6px;color:#333">Call</div>
<div class="t" style="left:860px;width:64px;text-align:right;top:622.5px;font-size:7.6px;color:#333">3850</div>
<div class="t" style="left:940px;width:72px;text-align:right;top:622.5px;font-size:7.6px;color:#333">45%</div>
</body></html>
